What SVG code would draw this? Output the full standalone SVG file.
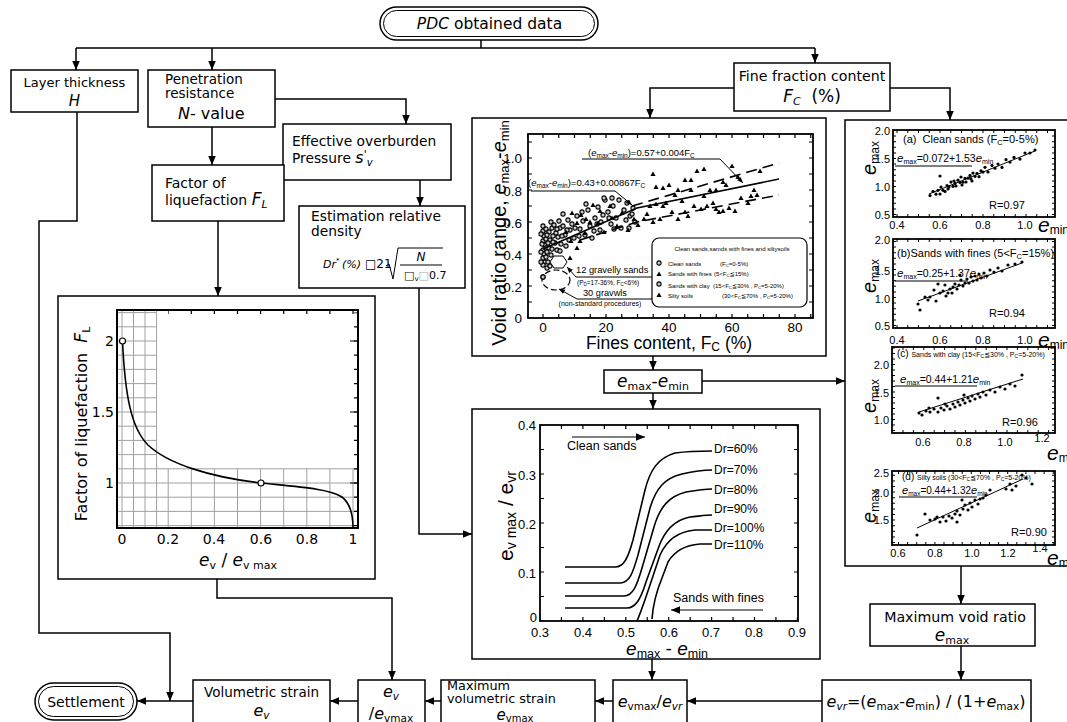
<svg xmlns="http://www.w3.org/2000/svg" width="1067" height="722" viewBox="0 0 1067 722">
<defs>
<marker id="ar" viewBox="0 0 10 10" refX="10" refY="5" markerWidth="9" markerHeight="9" markerUnits="userSpaceOnUse" orient="auto"><path d="M0,0.8L10,5L0,9.2z" fill="#000"/></marker>
<marker id="ars" viewBox="0 0 10 10" refX="10" refY="5" markerWidth="6" markerHeight="6" markerUnits="userSpaceOnUse" orient="auto"><path d="M0,1L10,5L0,9z" fill="#000"/></marker>
<marker id="pc" viewBox="-3 -3 6 6" markerWidth="6" markerHeight="6" markerUnits="userSpaceOnUse"><circle r="2.1" fill="#c8c8c8" stroke="#000" stroke-width="1.1"/></marker>
<marker id="pt" viewBox="-3 -3 6 6" markerWidth="6" markerHeight="6" markerUnits="userSpaceOnUse"><path d="M0,-2.6L2.6,2H-2.6z" fill="#000"/></marker>
<marker id="pd" viewBox="-2 -2 4 4" markerWidth="4" markerHeight="4" markerUnits="userSpaceOnUse"><circle r="1.6" fill="#000"/></marker>
</defs>
<style>
text{font-family:"DejaVu Sans","Liberation Sans",sans-serif;fill:#000}
.ch text{font-family:"Liberation Sans","DejaVu Sans",sans-serif}
.b{fill:#fff;stroke:#000;stroke-width:1.5}
.c{fill:none;stroke:#000;stroke-width:1.5;marker-end:url(#ar)}
.l{fill:none;stroke:#000;stroke-width:1.5}
.fr{fill:none;stroke:#000;stroke-width:1.8}
.g{fill:none;stroke:#a0a0a0;stroke-width:1}
.tk{fill:none;stroke:#000;stroke-width:4}
.tk3{fill:none;stroke:#000;stroke-width:3}
.cv{fill:none;stroke:#000;stroke-width:1.6}
.th{fill:none;stroke:#000;stroke-width:1}
.ld{fill:none;stroke:#000;stroke-width:1;marker-end:url(#ars)}
.pc{fill:none;stroke:none;marker-start:url(#pc);marker-mid:url(#pc);marker-end:url(#pc)}
.pt{fill:none;stroke:none;marker-start:url(#pt);marker-mid:url(#pt);marker-end:url(#pt)}
.pd{fill:none;stroke:none;marker-start:url(#pd);marker-mid:url(#pd);marker-end:url(#pd)}
.it{font-style:italic}
.mid{text-anchor:middle}
.end{text-anchor:end}
</style>

<g id="node-pdc">
<rect x="380" y="7" width="218" height="33" rx="16.5" class="b"/>
<rect x="383.5" y="10.5" width="211" height="26" rx="13" fill="none" stroke="#000" stroke-width="1"/>
<text x="489.5" y="29" class="mid" font-size="15.5"><tspan class="it">PDC</tspan> obtained data</text>
</g>

<g id="node-layer">
<rect x="11" y="70" width="127" height="42" class="b"/>
<text x="74.5" y="87" class="mid" font-size="13">Layer thickness</text>
<text x="74.5" y="106" class="mid it" font-size="15">H</text>
</g>

<g id="node-pen">
<rect x="148" y="70" width="127" height="57" class="b"/>
<text x="165" y="84" font-size="13.5">Penetration</text>
<text x="165" y="98" font-size="13.5">resistance</text>
<text x="178" y="119" font-size="16"><tspan class="it">N</tspan>- value</text>
</g>

<g id="node-eff">
<rect x="283" y="124" width="168" height="56" class="b"/>
<text x="292" y="146" font-size="13.8">Effective overburden</text>
<text x="292" y="163" font-size="13.8">Pressure <tspan class="it" font-size="16">s</tspan><tspan font-size="11" dy="-5">'</tspan><tspan class="it" font-size="10" dy="8">v</tspan></text>
</g>

<g id="node-dr">
<rect x="299" y="206" width="166" height="82" class="b"/>
<text x="311" y="221" font-size="13.8">Estimation relative</text>
<text x="311" y="236" font-size="13.8">density</text>
<text x="323" y="268" font-size="11" class="it">Dr<tspan font-size="7" dy="-5">*</tspan></text>
<text x="342" y="268" font-size="11" class="it">(%)</text>
<text x="365" y="268" font-size="12">□21</text>
<path d="M386,266L389,264L393,279L398,248H443" class="th"/>
<path d="M400,265H442" class="th"/>
<text x="421" y="261" class="mid it" font-size="12">N</text>
<text x="404" y="279" font-size="11"><tspan class="it">□</tspan><tspan font-size="7" dy="2">v</tspan><tspan dy="-2" fill="#aaa">□</tspan>0.7</text>
</g>

<g id="node-flbox">
<rect x="152" y="165" width="132" height="56" class="b"/>
<text x="165" y="188" font-size="14">Factor of</text>
<text x="165" y="205" font-size="14">liquefaction <tspan class="it" font-size="17">F</tspan><tspan class="it" font-size="11" dy="3">L</tspan></text>
</g>

<g id="node-fc">
<rect x="734" y="63" width="156" height="48" class="b"/>
<text x="812" y="81" class="mid" font-size="14.2">Fine fraction content</text>
<text x="812" y="102" class="mid" font-size="17"><tspan class="it">F</tspan><tspan class="it" font-size="11" dy="3">C</tspan><tspan dy="-3">&#160; (%)</tspan></text>
</g>

<g id="node-fl-chart">
<rect x="58" y="296" width="317" height="283" class="b"/>
<path class="g" d="M122,310V528M133.5,310V528M145,310V528M156.6,310V528M168.2,468.8V528M191.3,468.8V528M214.4,468.8V528M237.5,468.8V528M260.6,468.8V528M283.7,468.8V528M306.8,468.8V528M329.9,468.8V528M353,468.8V528M117,312.6H156.6M117,326.8H156.6M117,341H156.6M117,355.2H156.6M117,369.4H156.6M117,383.6H156.6M117,397.8H156.6M117,412H156.6M117,426.2H156.6M117,440.4H156.6M117,454.6H156.6M117,468.8H358M117,483H358M117,497.2H358M117,511.4H358M117,525.6H358"/>
<rect x="117" y="310" width="241" height="218" fill="none" stroke="#000" stroke-width="2"/>
<path class="tk" d="M168.2,312H358" stroke-dasharray="1.2 21.9" stroke-dashoffset="0.6"/>
<path class="tk" d="M356,312.6V528" stroke-dasharray="1.2 13" stroke-dashoffset="0.6"/>
<path class="th" d="M350,341H358M350,412H358M350,483H358"/>
<path class="cv" d="M122.5,341C125,395 131,428 148,445C168,464 210,477 261,483C300,487 330,489 342,497C351,504 353,515 353,528"/>
<circle cx="122.5" cy="341" r="3" fill="#fff" stroke="#000" stroke-width="1.2"/>
<circle cx="261" cy="483" r="3" fill="#fff" stroke="#000" stroke-width="1.2"/>
<text x="114" y="346" class="end" font-size="14">2</text>
<text x="114" y="417" class="end" font-size="14">1.5</text>
<text x="114" y="488" class="end" font-size="14">1</text>
<text x="122" y="544" class="mid" font-size="14">0</text>
<text x="168" y="544" class="mid" font-size="14">0.2</text>
<text x="214" y="544" class="mid" font-size="14">0.4</text>
<text x="261" y="544" class="mid" font-size="14">0.6</text>
<text x="307" y="544" class="mid" font-size="14">0.8</text>
<text x="353" y="544" class="mid" font-size="14">1</text>
<text x="238" y="566" class="mid" font-size="17"><tspan class="it">e</tspan><tspan font-size="11" dy="3">v</tspan><tspan dy="-3"> / </tspan><tspan class="it">e</tspan><tspan font-size="11" dy="3">v max</tspan></text>
<text transform="translate(87,424) rotate(-90)" class="mid" font-size="16">Factor of liquefaction&#160; <tspan class="it" font-size="17">F</tspan><tspan font-size="11" dy="3">L</tspan></text>
</g>

<g id="node-scatter" class="ch">
<rect x="472" y="118" width="354" height="238" class="b"/>
<rect x="528" y="134" width="285" height="184" class="fr"/>
<path class="tk" d="M527.25,136H813M527.25,316H813" stroke-dasharray="1.2 14.55" stroke-dashoffset="0.6"/>
<path class="tk" d="M530,318V134M811,318V134" stroke-dasharray="1.2 14.8" stroke-dashoffset="0.6"/>
<polyline class="pc" points="543,226 543,231 544,236 543,241 545,245 543,250 544,254 543,258 545,262 543,265 546,229 546,239 546,248 546,257 542,244 549,232 550,240 549,248 551,255 548,262 552,228 551,222 554,225 556,233 555,243 558,237 557,250 560,228 559,221 561,244 563,226 565,235 566,246 568,220 570,230 569,240 572,224 574,238 563,214 577,216 580,229 583,221 585,235 588,210 590,226 592,238 595,218 598,207 600,230 603,215 605,200 586,204 608,212 611,224 613,206 616,218 619,200 621,228 624,210 627,203 630,216 633,208 635,222 612,198 604,198 547,235 548,243 553,236 552,249 557,229 562,236 567,230 575,228 579,236 582,212 594,231 597,224 601,222 609,218 614,229 626,220 629,228 632,214 541,252 547,252 541,262 547,268 550,266 541,234 553,242 560,251"/>
<polyline class="pt" points="566,232 571,241 577,223 581,215 585,233 590,222 572,213 580,241 577,248 570,258 598,223 604,232 610,206 617,226 622,213 628,230 634,219 612,218 653,174 656,187 663,188 669,185 675,195 678,190 685,180 691,190 697,171 704,169 710,190 716,190 723,182 726,185 732,166 738,177 754,190 760,171 751,196 691,180 647,214 653,222 660,219 666,203 672,212 678,219 685,212 694,206 701,209 707,206 713,203 716,209 723,211 729,208 735,211 748,203 757,195 638,225 644,219 650,206 656,204 663,206 682,201 688,216 719,212 704,196 741,198 600,211 593,205 586,219"/>
<path class="cv" d="M543,249L637,208L779,179"/>
<path class="cv" d="M632,206L779,163M580,240L637,222L779,195" stroke-dasharray="11 6"/>
<polygon points="550,262 554,256 563,256 567,262 563,268 554,268" fill="#fff" stroke="#000" stroke-width="1"/>
<ellipse cx="556" cy="280" rx="14" ry="10" fill="none" stroke="#000" stroke-width="1.2" stroke-dasharray="6 3"/>
<polyline class="pc" points="543,277 543,277"/>
<text x="588" y="156" font-size="9.5">(<tspan class="it">e</tspan><tspan font-size="6.5" dy="2">max</tspan><tspan dy="-2">-</tspan><tspan class="it">e</tspan><tspan font-size="6.5" dy="2">min</tspan><tspan dy="-2">)=0.57+0.004F</tspan><tspan font-size="6.5" dy="2">C</tspan></text>
<path class="ld" d="M582,159H720L743,183"/>
<text x="528" y="186" font-size="9.5">(<tspan class="it">e</tspan><tspan font-size="6.5" dy="2">max</tspan><tspan dy="-2">-</tspan><tspan class="it">e</tspan><tspan font-size="6.5" dy="2">min</tspan><tspan dy="-2">)=0.43+0.00867F</tspan><tspan font-size="6.5" dy="2">C</tspan></text>
<path class="ld" d="M531,191H615L632,205"/>
<rect x="652" y="238" width="155" height="69" rx="7" fill="#fff" stroke="#000" stroke-width="1.2"/>
<text x="732" y="251" class="mid" font-size="6">Clean sands,samds with fines and siltysoils</text>
<polyline class="pc" points="659,263 659,284"/>
<polyline class="pt" points="659,274 659,295"/>
<text x="668" y="265.5" font-size="6">Clean sands<tspan x="720">(F</tspan><tspan font-size="4.3" dy="1">C</tspan><tspan dy="-1">=0-5%)</tspan></text>
<text x="668" y="276" font-size="6">Sands with fines<tspan x="714">(5&lt;F</tspan><tspan font-size="4.3" dy="1">C</tspan><tspan dy="-1">≦15%)</tspan></text>
<text x="668" y="287.5" font-size="6">Sands with clay<tspan x="713">(15&lt;F</tspan><tspan font-size="4.3" dy="1">C</tspan><tspan dy="-1">≦30% , P</tspan><tspan font-size="4.3" dy="1">C</tspan><tspan dy="-1">=5-20%)</tspan></text>
<text x="668" y="297.5" font-size="6">Silty soils<tspan x="722">(30&lt;F</tspan><tspan font-size="4.3" dy="1">C</tspan><tspan dy="-1">≦70% , P</tspan><tspan font-size="4.3" dy="1">C</tspan><tspan dy="-1">=5-20%)</tspan></text>
<text x="576" y="273" font-size="9.3">12 gravelly sands</text>
<path class="ld" d="M652,277H576L567,267"/>
<text x="577" y="285" font-size="6.5">(P<tspan font-size="4.5" dy="1">D</tspan><tspan dy="-1">=17-36%, F</tspan><tspan font-size="4.5" dy="1">C</tspan><tspan dy="-1">&lt;6%)</tspan></text>
<text x="583" y="296" font-size="9.2">30 gravwls</text>
<path class="ld" d="M652,299H577L559,289"/>
<text x="600" y="306" class="mid" font-size="7">(non-standard procedures)</text>
<text x="522" y="163" class="end" font-size="13.5">1.0</text>
<text x="522" y="196" class="end" font-size="13.5">0.8</text>
<text x="522" y="228" class="end" font-size="13.5">0.6</text>
<text x="522" y="260" class="end" font-size="13.5">0.4</text>
<text x="522" y="292" class="end" font-size="13.5">0.2</text>
<text x="522" y="323" class="end" font-size="13.5">0</text>
<text x="543" y="332" class="mid" font-size="13.5">0</text>
<text x="606" y="332" class="mid" font-size="13.5">20</text>
<text x="669" y="332" class="mid" font-size="13.5">40</text>
<text x="732" y="332" class="mid" font-size="13.5">60</text>
<text x="795" y="332" class="mid" font-size="13.5">80</text>
<text x="669" y="349" class="mid" font-size="17.5">Fines content, F<tspan font-size="12" dy="2">C</tspan><tspan dy="-2"> (%)</tspan></text>
<text transform="translate(506,233) rotate(-90)" class="mid" font-size="20">Void ratio range, <tspan class="it">e</tspan><tspan font-size="13" dy="3">max</tspan><tspan dy="-3">-</tspan><tspan class="it">e</tspan><tspan font-size="13" dy="3">min</tspan></text>
</g>

<g id="node-range">
<rect x="604" y="370" width="98" height="23" class="b"/>
<text x="653" y="387" class="mid" font-size="17"><tspan class="it">e</tspan><tspan font-size="11" dy="3">max</tspan><tspan dy="-3">-</tspan><tspan class="it">e</tspan><tspan font-size="11" dy="3">min</tspan></text>
</g>

<g id="node-emax-charts" class="ch">
<rect x="845" y="120" width="230" height="446" class="b"/>
<rect x="893" y="130" width="162" height="87" class="fr"/>
<path class="tk3" d="M896.5,131.5H1055M896.5,215.5H1055" stroke-dasharray="1 9.75"/>
<path class="tk3" d="M894.5,215V130M1053.5,215V130" stroke-dasharray="1 4.6"/>
<text x="903" y="143" font-size="11">(a)&#160; Clean sands (F<tspan font-size="7.5" dy="2">C</tspan><tspan dy="-2">=0-5%)</tspan></text>
<text x="897" y="162" font-size="10.5"><tspan class="it" font-size="11.5">e</tspan><tspan font-size="7" dy="2">max</tspan><tspan dy="-2">=0.072+1.53</tspan><tspan class="it" font-size="11.5">e</tspan><tspan font-size="7" dy="2">min</tspan></text>
<path class="th" d="M895,166H972"/>
<path class="th" d="M929,194L1035,151"/>
<polyline class="pd" points="930,195.6 933,191.4 936,194.2 938,190.3 941,187.1 943,190.3 945,191.5 947,185.7 949,186.9 951,182.1 953,186.3 955,183.4 956,186 958,180.2 960,182.4 961,177 963,182.2 965,178.4 966,182 968,178.2 970,175.4 971,178.9 973,173.1 975,176.3 977,173.5 979,176.7 981,170.9 983,172.1 985,167.3 988,172 992,165.4 995,168.2 998,164 1002,167.4 1006,159.7 1010,162.1 1014,157.5 1020,159.1 1025,153 1030,153 1035,150 940,176 940,194 948,189 954,181 962,185 972,181"/>
<text x="1007" y="209" class="mid" font-size="11">R=0.97</text>
<text x="890" y="135" class="end" font-size="11">2.0</text>
<text x="890" y="163" class="end" font-size="11">1.5</text>
<text x="890" y="191" class="end" font-size="11">1.0</text>
<text x="890" y="219" class="end" font-size="11">0.5</text>
<text x="897" y="229" class="mid" font-size="11">0.4</text>
<text x="940" y="229" class="mid" font-size="11">0.6</text>
<text x="983" y="229" class="mid" font-size="11">0.8</text>
<text x="1025" y="229" class="mid" font-size="11">1.0</text>
<text x="1038" y="232" font-size="21" class="it">e<tspan font-size="12" font-style="normal" dy="2">min</tspan></text>
<text transform="translate(876,158) rotate(-90)" class="mid it" font-size="20">e<tspan font-style="normal" font-size="12" dy="3">max</tspan></text>
<rect x="893" y="239" width="162" height="89" class="fr"/>
<path class="tk3" d="M896.5,240.5H1055M896.5,326.5H1055" stroke-dasharray="1 9.75"/>
<path class="tk3" d="M894.5,326V239M1053.5,326V239" stroke-dasharray="1 4.6"/>
<text x="897" y="257" font-size="11">(b)Sands with fines (5&lt;F<tspan font-size="7.5" dy="2">C</tspan><tspan dy="-2">=15%)</tspan></text>
<text x="897" y="277" font-size="10.5"><tspan class="it" font-size="11.5">e</tspan><tspan font-size="7" dy="2">max</tspan><tspan dy="-2">=0.25+1.37</tspan><tspan class="it" font-size="11.5">e</tspan><tspan font-size="7" dy="2">min</tspan></text>
<path class="th" d="M895,281H968"/>
<path class="th" d="M918,301L1022,263"/>
<polyline class="pd" points="918,304 920,310 925,297 930,297 934,290 936,301 940,293 943,291 945,285 948,293 950,289 953,287 955,284 957,289 959,285 961,280 963,286 965,283 967,279 969,283 971,277 973,281 975,276 977,280 979,274 981,278 984,273 987,276 990,270 994,272 998,268 1002,271 1008,265 1015,264 1022,262 938,284 960,275 952,293 946,296 928,300"/>
<text x="1007" y="317" class="mid" font-size="11">R=0.94</text>
<text x="890" y="244" class="end" font-size="11">2.0</text>
<text x="890" y="275" class="end" font-size="11">1.5</text>
<text x="890" y="303" class="end" font-size="11">1.0</text>
<text x="890" y="330" class="end" font-size="11">0.5</text>
<text x="897" y="344" class="mid" font-size="11">0.4</text>
<text x="940" y="344" class="mid" font-size="11">0.6</text>
<text x="983" y="344" class="mid" font-size="11">0.8</text>
<text x="1025" y="344" class="mid" font-size="11">1.0</text>
<text x="1038" y="347" font-size="21" class="it">e<tspan font-size="12" font-style="normal" dy="2">min</tspan></text>
<text transform="translate(876,276) rotate(-90)" class="mid it" font-size="20">e<tspan font-style="normal" font-size="12" dy="3">max</tspan></text>
<rect x="892" y="347" width="163" height="86" class="fr"/>
<path class="tk3" d="M902.5,348.5H1055M902.5,431.5H1055" stroke-dasharray="1 9.4"/>
<path class="tk3" d="M893.5,431V347M1053.5,431V347" stroke-dasharray="1 4.5"/>
<text x="897" y="357" font-size="10">(c) <tspan font-size="7">Sands with clay (15&lt;F</tspan><tspan font-size="5" dy="1">C</tspan><tspan font-size="7" dy="-1">≦30% , P</tspan><tspan font-size="5" dy="1">C</tspan><tspan font-size="7" dy="-1">=5-20%)</tspan></text>
<text x="900" y="383" font-size="10.5"><tspan class="it" font-size="11.5">e</tspan><tspan font-size="7" dy="2">max</tspan><tspan dy="-2">=0.44+1.21</tspan><tspan class="it" font-size="11.5">e</tspan><tspan font-size="7" dy="2">min</tspan></text>
<path class="th" d="M895,386H977"/>
<path class="th" d="M919,412L1023,379"/>
<polyline class="pd" points="919,413 922,415 926,411 930,412 934,409 938,412 941,408 944,410 947,406 950,409 953,404 955,407 958,402 960,405 963,400 965,403 968,398 970,401 972,396 975,399 978,394 980,397 983,392 986,395 990,390 995,392 1000,387 1005,389 1010,384 1015,386 1022,375 938,398 964,395 929,408 945,404"/>
<text x="1020" y="426" class="mid" font-size="11">R=0.96</text>
<text x="889" y="369" class="end" font-size="11">2.0</text>
<text x="889" y="397" class="end" font-size="11">1.5</text>
<text x="889" y="424" class="end" font-size="11">1.0</text>
<text x="923" y="446" class="mid" font-size="11">0.6</text>
<text x="964" y="446" class="mid" font-size="11">0.8</text>
<text x="1005" y="446" class="mid" font-size="11">1.0</text>
<text x="1042" y="442" class="mid" font-size="11">1.2</text>
<text x="1047" y="460" font-size="21" class="it">e<tspan font-size="12" font-style="normal" dy="2">min</tspan></text>
<text transform="translate(876,396) rotate(-90)" class="mid it" font-size="20">e<tspan font-style="normal" font-size="12" dy="3">max</tspan></text>
<rect x="892" y="471" width="163" height="74" class="fr"/>
<path class="tk3" d="M898,472.5H1055M898,543.5H1055" stroke-dasharray="1 8.1"/>
<path class="tk3" d="M893.5,543V471M1053.5,543V471" stroke-dasharray="1 4.6"/>
<text x="902" y="480" font-size="10">(d) <tspan font-size="7">Silty soils (30&lt;F</tspan><tspan font-size="5" dy="1">C</tspan><tspan font-size="7" dy="-1">≦70% , P</tspan><tspan font-size="5" dy="1">C</tspan><tspan font-size="7" dy="-1">=5-20%)</tspan></text>
<text x="902" y="494" font-size="10"><tspan class="it" font-size="11">e</tspan><tspan font-size="6.5" dy="2">max</tspan><tspan dy="-2">=0.44+1.32</tspan><tspan class="it" font-size="11">e</tspan><tspan font-size="6.5" dy="2">min</tspan></text>
<path class="th" d="M899,497H977"/>
<path class="th" d="M917,528L1023,479"/>
<polyline class="pd" points="917,535 925,514 930,520 935,519 940,522 943,517 946,521 949,516 952,518 955,514 957,511 960,515 963,509 965,505 968,510 970,503 972,507 975,500 978,504 980,499 983,498 986,495 990,490 1006,489 1010,484 1016,486 1022,475 1026,478 957,522 962,500 1032,484 937,517 1012,490"/>
<text x="1029" y="536" class="mid" font-size="11">R=0.90</text>
<text x="889" y="477" class="end" font-size="11">2.5</text>
<text x="889" y="497" class="end" font-size="11">2.0</text>
<text x="889" y="524" class="end" font-size="11">1.5</text>
<text x="898" y="557" class="mid" font-size="11">0.6</text>
<text x="935" y="557" class="mid" font-size="11">0.8</text>
<text x="972" y="557" class="mid" font-size="11">1.0</text>
<text x="1008" y="557" class="mid" font-size="11">1.2</text>
<text x="1040" y="552" class="mid" font-size="11">1.4</text>
<text x="1047" y="565" font-size="21" class="it">e<tspan font-size="12" font-style="normal" dy="2">min</tspan></text>
<text transform="translate(876,506) rotate(-90)" class="mid it" font-size="20">e<tspan font-style="normal" font-size="12" dy="3">max</tspan></text>
</g>

<g id="node-dr-chart" class="ch">
<rect x="472" y="409" width="348" height="250" class="b"/>
<rect x="540" y="425" width="258" height="196" class="fr"/>
<path class="tk" d="M540,427H798M540,619H798" stroke-dasharray="1.2 20.25" stroke-dashoffset="0.6"/>
<path class="tk" d="M542,621V425M796,621V425" stroke-dasharray="1.2 23.3" stroke-dashoffset="0.6"/>
<path class="cv" d="M565,567H615C624,567 628,558 633,540L645,490C650,470 658,458 675,453C690,451 700,451 712,451"/>
<path class="cv" d="M565,583H620C630,583 633,572 638,555L650,508C656,488 665,478 682,474C695,471 703,470 712,470"/>
<path class="cv" d="M565,596H624C633,596 637,585 642,568L654,527C660,506 670,496 686,492C698,490 705,489 712,489"/>
<path class="cv" d="M565,608H627C636,608 641,598 646,582L658,549C664,531 674,520 690,517C700,516 706,515 712,515"/>
<path class="cv" d="M637,621C641,612 645,600 650,585L660,555C667,540 677,532 695,530L712,530"/>
<path class="cv" d="M652,619C653,605 657,590 662,578L668,562C675,550 688,545 700,544L712,544"/>
<text x="714" y="453" font-size="12">Dr=60%</text>
<text x="714" y="474" font-size="12">Dr=70%</text>
<text x="714" y="494" font-size="12">Dr=80%</text>
<text x="714" y="513" font-size="12">Dr=90%</text>
<text x="714" y="532" font-size="12">Dr=100%</text>
<text x="714" y="549" font-size="12">Dr=110%</text>
<text x="567" y="450" font-size="12.5">Clean sands</text>
<path class="th" d="M572,437H645" marker-end="url(#ar)"/>
<text x="673" y="602" font-size="12.5">Sands with fines</text>
<path class="th" d="M763,610H671" marker-end="url(#ar)"/>
<text x="536" y="430" class="end" font-size="13">0.4</text>
<text x="536" y="480" class="end" font-size="13">0.3</text>
<text x="536" y="529" class="end" font-size="13">0.2</text>
<text x="536" y="578" class="end" font-size="13">0.1</text>
<text x="537" y="622" class="end" font-size="13">0</text>
<text x="540" y="637" class="mid" font-size="13">0.3</text>
<text x="583" y="637" class="mid" font-size="13">0.4</text>
<text x="626" y="637" class="mid" font-size="13">0.5</text>
<text x="669" y="637" class="mid" font-size="13">0.6</text>
<text x="711" y="637" class="mid" font-size="13">0.7</text>
<text x="754" y="637" class="mid" font-size="13">0.8</text>
<text x="797" y="637" class="mid" font-size="13">0.9</text>
<text x="667" y="655" class="mid" font-size="19"><tspan class="it">e</tspan><tspan font-size="12.5" dy="3">max</tspan><tspan dy="-3"> - </tspan><tspan class="it">e</tspan><tspan font-size="12.5" dy="3">min</tspan></text>
<text transform="translate(513,516) rotate(-90)" class="mid" font-size="21">e<tspan font-size="14" dy="3">v max</tspan><tspan dy="-3"> / e</tspan><tspan font-size="14" dy="3">vr</tspan></text>
</g>

<g id="node-maxvoid">
<rect x="870" y="604" width="165" height="42" class="b"/>
<text x="955" y="622" class="mid" font-size="14.2">Maximum void ratio</text>
<text x="952" y="641" class="mid" font-size="17"><tspan class="it">e</tspan><tspan font-size="11" dy="3">max</tspan></text>
</g>

<g id="node-evr">
<rect x="822" y="680" width="209" height="50" class="b"/>
<text x="926" y="707" class="mid" font-size="16"><tspan class="it">e</tspan><tspan class="it" font-size="10.5" dy="3">vr</tspan><tspan dy="-3">=(</tspan><tspan class="it">e</tspan><tspan font-size="10.5" dy="3">max</tspan><tspan dy="-3">-</tspan><tspan class="it">e</tspan><tspan font-size="10.5" dy="3">min</tspan><tspan dy="-3">) / (1+</tspan><tspan class="it">e</tspan><tspan font-size="10.5" dy="3">max</tspan><tspan dy="-3">)</tspan></text>
</g>

<g id="node-ratio">
<rect x="613" y="680" width="74" height="50" class="b"/>
<text x="650" y="707" class="mid" font-size="16"><tspan class="it">e</tspan><tspan font-size="10.5" dy="3">vmax</tspan><tspan dy="-3">/</tspan><tspan class="it">e</tspan><tspan class="it" font-size="10.5" dy="3">vr</tspan></text>
</g>

<g id="node-maxvol">
<rect x="441" y="680" width="154" height="50" class="b"/>
<text x="447" y="690" font-size="12.8">Maximum</text>
<text x="447" y="703" font-size="12.8">volumetric strain</text>
<text x="515" y="719.5" class="mid" font-size="15"><tspan class="it">e</tspan><tspan font-size="10" dy="2.5">vmax</tspan></text>
</g>

<g id="node-evratio">
<rect x="358" y="680" width="67" height="50" class="b"/>
<text x="391" y="697" class="mid" font-size="16"><tspan class="it">e</tspan><tspan class="it" font-size="10.5" dy="3">v</tspan></text>
<text x="391" y="719" class="mid" font-size="16">/<tspan class="it">e</tspan><tspan font-size="10.5" dy="3">vmax</tspan></text>
</g>

<g id="node-volstrain">
<rect x="193" y="680" width="137" height="50" class="b"/>
<text x="261.5" y="697" class="mid" font-size="13.5">Volumetric strain</text>
<text x="261.5" y="716" class="mid" font-size="16"><tspan class="it">e</tspan><tspan class="it" font-size="10.5" dy="3">v</tspan></text>
</g>

<g id="node-settlement">
<rect x="35" y="683" width="102" height="37" rx="18.5" class="b"/>
<rect x="38.5" y="686.5" width="95" height="30" rx="15" fill="none" stroke="#000" stroke-width="1"/>
<text x="86" y="707" class="mid" font-size="14">Settlement</text>
</g>

<g id="connectors">
<path class="l" d="M481,40V48M76,48H815"/>
<path class="c" d="M76,48V70"/>
<path class="c" d="M212,48V70"/>
<path class="c" d="M815,48V63"/>
<path class="c" d="M275,99H406V124"/>
<path class="c" d="M212,127V165"/>
<path class="c" d="M218,221V296"/>
<path class="c" d="M420,180V206"/>
<path class="c" d="M419,288V534H472"/>
<path class="c" d="M77,112V221H39V633H170V701"/>
<path class="c" d="M217,579V598H392V680"/>
<path class="c" d="M734,88H650V118"/>
<path class="c" d="M890,88H950V120"/>
<path class="c" d="M653,356V370"/>
<path class="c" d="M653,393V409"/>
<path class="c" d="M702,381H845"/>
<path class="c" d="M961,566V604"/>
<path class="c" d="M961,646V680"/>
<path class="c" d="M652,659V680"/>
<path class="c" d="M822,701H687"/>
<path class="c" d="M613,701H595"/>
<path class="c" d="M441,701H425"/>
<path class="c" d="M358,701H330"/>
<path class="c" d="M193,701H137"/>
</g>
</svg>
